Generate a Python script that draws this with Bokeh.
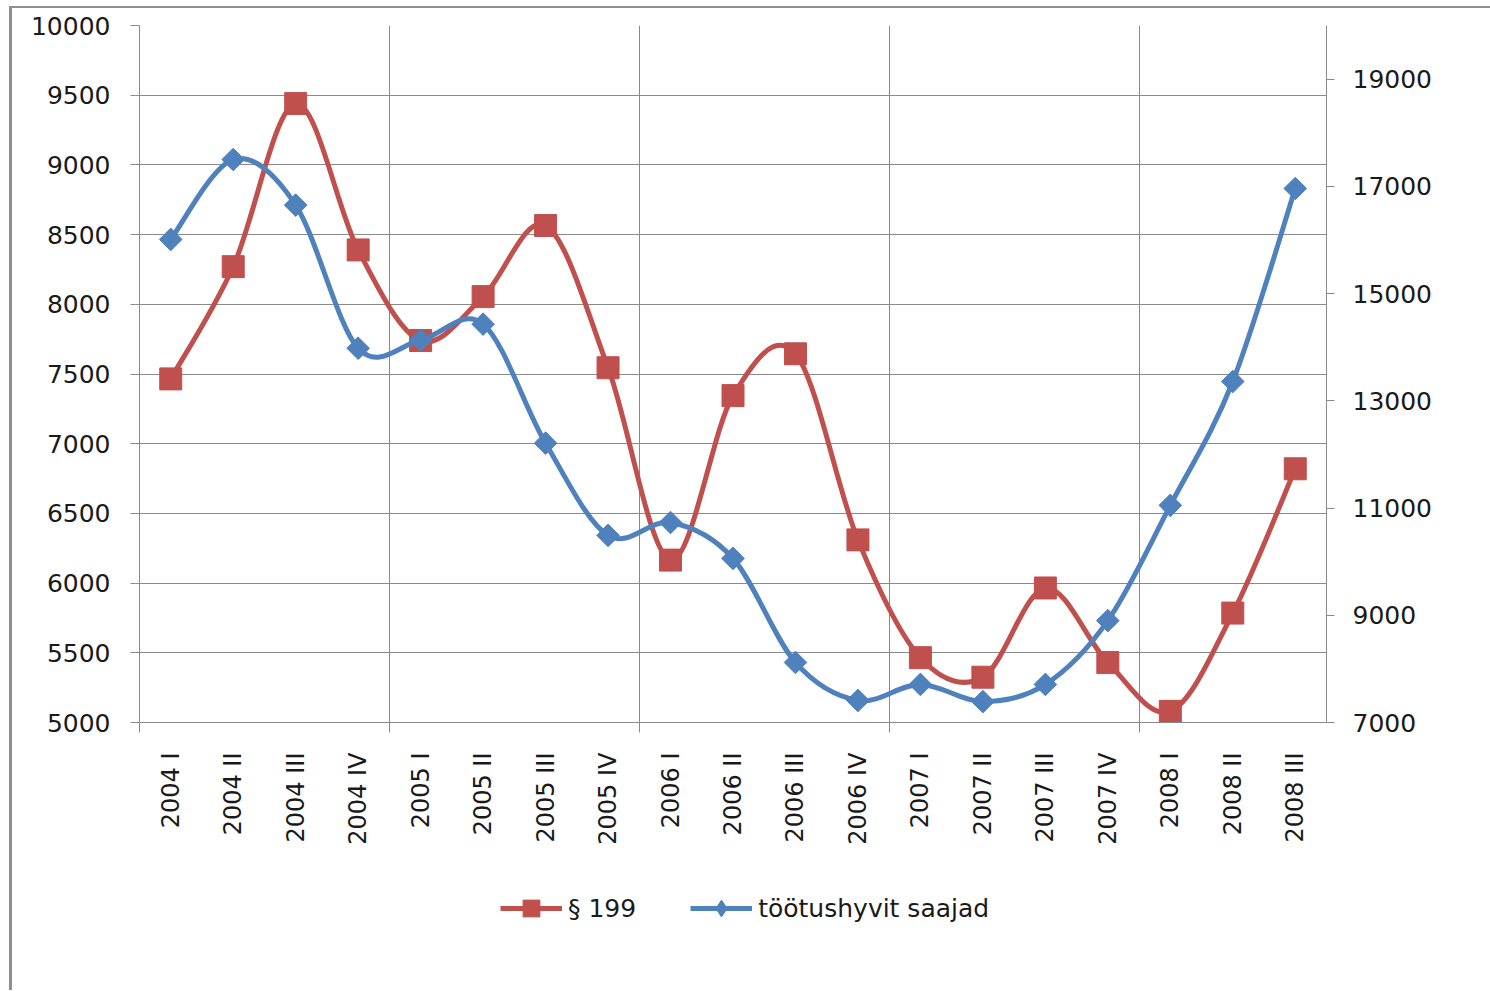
import numpy as np
from bokeh.plotting import figure
from bokeh.layouts import column
from bokeh.models import (Range1d, LinearAxis, FixedTicker, CustomJSTickFormatter,
                          ColumnDataSource, Legend, LegendItem)
from bokeh.embed import file_html
from bokeh.resources import INLINE

quarters = ["2004 I", "2004 II", "2004 III", "2004 IV",
            "2005 I", "2005 II", "2005 III", "2005 IV",
            "2006 I", "2006 II", "2006 III", "2006 IV",
            "2007 I", "2007 II", "2007 III", "2007 IV",
            "2008 I", "2008 II", "2008 III"]
par199 = [7465, 8270, 9440, 8390, 7740, 8055, 8565, 7545, 6165, 7345,
          7645, 6310, 5465, 5325, 5965, 5430, 5080, 5785, 6820]
hyvit = [16010, 17500, 16650, 13980, 14130, 14430, 12210, 10490, 10730, 10060,
         8120, 7410, 7710, 7390, 7710, 8900, 11050, 13360, 16960]
left_ticks = [5000, 5500, 6000, 6500, 7000, 7500, 8000, 8500, 9000, 9500, 10000]
right_ticks = [7000, 9000, 11000, 13000, 15000, 17000, 19000]
year_bounds = [0, 4, 8, 12, 16]
series_names = ["§ 199", "töötushyvit saajad"]

RED = "#C0504D"
BLUE = "#4F81BD"
GRID = "#8A8A8A"
FONT = "DejaVu Sans"
TXT = "#1a1a1a"

n = len(quarters)
xs = np.arange(n) + 0.5


def smooth(y):
    y = np.asarray(y, dtype=float)
    P = np.column_stack([xs, y])
    segs = dict(x0=[], y0=[], x1=[], y1=[], cx0=[], cy0=[], cx1=[], cy1=[])
    for i in range(n - 1):
        pm = P[i - 1] if i > 0 else P[i]
        p0, p1 = P[i], P[i + 1]
        p2 = P[i + 2] if i + 2 < n else P[i + 1]
        c0 = p0 + (p1 - pm) / 6.0
        c1 = p1 - (p2 - p0) / 6.0
        segs["x0"].append(p0[0]); segs["y0"].append(p0[1])
        segs["x1"].append(p1[0]); segs["y1"].append(p1[1])
        segs["cx0"].append(c0[0]); segs["cy0"].append(c0[1])
        segs["cx1"].append(c1[0]); segs["cy1"].append(c1[1])
    return ColumnDataSource(segs)


p = figure(frame_width=1187, frame_height=697, output_backend="svg", toolbar_location=None,
           x_range=Range1d(0, n), y_range=Range1d(5000, 10000),
           min_border_left=127, min_border_right=164, min_border_top=17,
           min_border_bottom=130, outline_line_color=None,
           background_fill_color="white", border_fill_color="white")
p.extra_y_ranges = {"right": Range1d(7000, 20000)}

# axes
p.xaxis.ticker = FixedTicker(ticks=list(xs), minor_ticks=year_bounds)
p.xaxis.formatter = CustomJSTickFormatter(args=dict(labels=quarters),
                                          code="return labels[Math.round(tick - 0.5)];")
p.xaxis.major_label_orientation = np.pi / 2
p.xaxis.major_tick_line_color = None
p.xaxis.major_tick_out = 10
p.xaxis.major_tick_in = 0
p.xaxis.minor_tick_line_color = GRID
p.xaxis.minor_tick_out = 10
p.xaxis.minor_tick_in = 0
p.xaxis.major_label_standoff = 20
p.xaxis.axis_line_color = GRID

p.yaxis.ticker = FixedTicker(ticks=left_ticks)
p.yaxis.major_tick_out = 9
p.yaxis.major_tick_in = 0
p.yaxis.minor_tick_line_color = None
p.yaxis.major_label_standoff = 20
p.yaxis.axis_line_color = GRID
p.yaxis.major_tick_line_color = GRID

raxis = LinearAxis(y_range_name="right", ticker=FixedTicker(ticks=right_ticks))
raxis.major_tick_out = 8
raxis.major_tick_in = 0
raxis.minor_tick_line_color = None
raxis.major_label_standoff = 18
raxis.axis_line_color = GRID
raxis.major_tick_line_color = GRID
p.add_layout(raxis, "right")

for ax in [p.xaxis[0], p.yaxis[0], raxis]:
    ax.major_label_text_font = FONT
    ax.major_label_text_color = TXT
    ax.major_label_text_font_size = "25px"
p.xaxis.major_label_text_font_size = "24px"

p.xgrid.ticker = FixedTicker(ticks=year_bounds)
p.xgrid.grid_line_color = GRID
p.ygrid.grid_line_color = GRID
p.xgrid.grid_line_width = 1
p.ygrid.grid_line_width = 1

# series
red_src = smooth(par199)
blue_src = smooth(hyvit)
bz = dict(x0="x0", y0="y0", x1="x1", y1="y1", cx0="cx0", cy0="cy0", cx1="cx1", cy1="cy1")
p.bezier(source=red_src, line_color=RED, line_width=5, **bz)
p.scatter(xs, par199, marker="square", size=22, fill_color=RED, line_color=RED)
p.bezier(source=blue_src, line_color=BLUE, line_width=5, y_range_name="right", **bz)
p.scatter(xs, hyvit, marker="square", angle=np.pi / 4, size=16,
          fill_color=BLUE, line_color=BLUE, y_range_name="right")

# legend strip (own small figure so the legend is not clipped)
p2 = figure(frame_width=1187, frame_height=138, output_backend="svg", toolbar_location=None,
            x_range=Range1d(-10, -9), y_range=Range1d(-10, -9),
            x_axis_type=None, y_axis_type=None,
            min_border_left=127, min_border_right=164, min_border_top=0,
            min_border_bottom=0, outline_line_color=None,
            background_fill_color="white", border_fill_color="white")
lr_line = p2.bezier(source=red_src, line_color=RED, line_width=5, **bz)
lr_pts = p2.scatter(xs, par199, marker="square", size=22, fill_color=RED, line_color=RED)
lb_line = p2.bezier(source=blue_src, line_color=BLUE, line_width=5, **bz)
lb_pts = p2.scatter(xs, hyvit, marker="diamond", size=22,
                    fill_color=BLUE, line_color=BLUE)

legend = Legend(items=[LegendItem(label=series_names[0], renderers=[lr_line, lr_pts]),
                       LegendItem(label=series_names[1], renderers=[lb_line, lb_pts])],
                orientation="horizontal", location=(361, 61),
                label_text_font=FONT, label_text_font_size="25px", label_text_color=TXT,
                glyph_width=62, glyph_height=42, label_standoff=6, spacing=54,
                padding=0, margin=0, border_line_color=None, background_fill_alpha=0)
p2.add_layout(legend, "center")

layout = column(p, p2, spacing=0)
layout.styles = {"border-left": "3px solid #8f8f8f", "border-top": "2px solid #8f8f8f",
                 "margin-left": "9px", "margin-top": "6px"}

open("out.html", "w").write(file_html(layout, INLINE))
